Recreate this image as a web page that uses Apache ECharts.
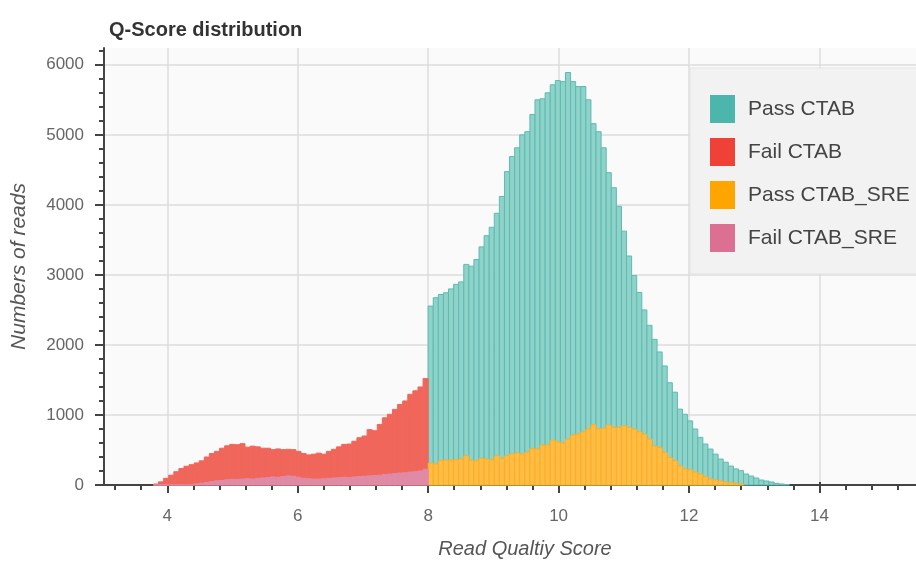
<!DOCTYPE html>
<html>
<head>
<meta charset="utf-8">
<script src="https://cdn.jsdelivr.net/npm/echarts@6/dist/echarts.min.js"></script>
<style>
  html, body { margin: 0; padding: 0; background: #ffffff; }
  #chart { width: 916px; height: 564px; }
</style>
</head>
<body>
<div id="chart"></div>
<script>
// Histogram bins (read quality score), all series share one bin width
const BIN_WIDTH = 0.078;
const passBinStart = 8.0;
const failBinStart = 3.788;

// Reads per bin, passing reads (q >= 8)
const passCTAB = [
  2555, 2675, 2720, 2745, 2800, 2865, 2900, 3150, 3125, 3220,
  3400, 3560, 3680, 3880, 4120, 4475, 4690, 4815, 5000, 5045,
  5290, 5500, 5515, 5600, 5715, 5775, 5760, 5890, 5760, 5690,
  5690, 5500, 5160, 5045, 4815, 4460, 4245, 3980, 3625, 3270,
  2990, 2750, 2500, 2280, 2080, 1900, 1700, 1460, 1325, 1083,
  1010, 915, 800, 680, 585, 513, 440, 370, 325, 270,
  230, 205, 157, 128, 100, 71, 57, 43, 24, 14,
  6
];
const passCTABSRE = [
  313, 300, 346, 356, 356, 360, 370, 418, 356, 346,
  380, 370, 360, 418, 380, 418, 442, 456, 442, 466,
  523, 513, 570, 570, 641, 617, 598, 655, 712, 727,
  760, 800, 860, 800, 810, 855, 822, 822, 845, 822,
  798, 760, 727, 655, 560, 537, 466, 394, 346, 275,
  228, 218, 185, 157, 120, 85, 71, 57, 43, 35,
  25, 15
];

// Reads per bin, failing reads (q < 8)
const failCTAB = [
  14, 45, 95, 140, 190, 235, 268, 290, 315, 345,
  400, 450, 480, 525, 560, 580, 575, 590, 540, 555,
  545, 525, 525, 505, 515, 505, 510, 505, 480, 450,
  430, 440, 455, 440, 480, 510, 545, 580, 585, 625,
  675, 700, 790, 775, 865, 960, 1010, 1080, 1150, 1200,
  1295, 1345, 1400, 1520
];
const failCTABSRE = [
  0, 0, 0, 0, 0, 0, 0, 0, 15, 25,
  35, 50, 60, 65, 75, 80, 80, 85, 90, 85,
  95, 100, 105, 115, 110, 120, 130, 125, 110, 95,
  90, 85, 85, 90, 95, 100, 105, 110, 105, 115,
  120, 125, 130, 135, 140, 150, 155, 165, 170, 175,
  185, 190, 200, 225
];

// Axis ticks and labels
const xMajorTicks = [4, 6, 8, 10, 12, 14];
const xMinorTicks = [3.2, 3.6, 4.4, 4.8, 5.2, 5.6, 6.4, 6.8, 7.2, 7.6, 8.4, 8.8, 9.2, 9.6,
                     10.4, 10.8, 11.2, 11.6, 12.4, 12.8, 13.2, 13.6, 14.4, 14.8, 15.2];
const yMajorTicks = [0, 1000, 2000, 3000, 4000, 5000, 6000];
const yMinorTicks = [200, 400, 600, 800, 1200, 1400, 1600, 1800, 2200, 2400, 2600, 2800,
                     3200, 3400, 3600, 3800, 4200, 4400, 4600, 4800, 5200, 5400, 5600, 5800, 6200];

const FONT = '"Liberation Sans", Arial, Helvetica, sans-serif';
const X_MIN = 3.03, X_MAX = 15.48, Y_MAX = 6240;
const AXIS_COLOR = '#444444';

function toBins(start, counts) {
  return counts.map((c, i) => [start + i * BIN_WIDTH, start + (i + 1) * BIN_WIDTH, c]);
}

function histSeries(name, start, counts, swatch, fill, stroke) {
  return {
    name: name,
    type: 'custom',
    xAxisIndex: 0,
    yAxisIndex: 0,
    data: toBins(start, counts),
    encode: { x: [0, 1], y: 2 },
    itemStyle: { color: swatch },
    renderItem: function (params, api) {
      const top = api.coord([api.value(0), api.value(2)]);
      const base = api.coord([api.value(1), 0]);
      return {
        type: 'rect',
        shape: { x: top[0], y: top[1], width: base[0] - top[0], height: base[1] - top[1] },
        style: { fill: fill, stroke: stroke, lineWidth: 1 }
      };
    }
  };
}

const plainNumber = (v) => String(v);

const chart = echarts.init(document.getElementById('chart'), null, { renderer: 'canvas' });

chart.setOption({
  animation: false,
  backgroundColor: '#ffffff',
  title: {
    text: 'Q-Score distribution',
    left: 104,
    top: 15,
    textStyle: { fontSize: 20, fontWeight: 'bold', color: '#333333', fontFamily: FONT }
  },
  grid: {
    left: 104, right: 0, top: 48, bottom: 78,
    show: true, backgroundColor: '#fafafa', borderWidth: 0
  },
  legend: {
    orient: 'vertical',
    left: 690,
    top: 68,
    padding: [27, 10, 22, 20],
    itemWidth: 25,
    itemHeight: 28,
    itemGap: 15,
    icon: 'rect',
    selectedMode: false,
    backgroundColor: '#f2f2f2',
    borderColor: '#e4e4e4',
    borderWidth: 1,
    textStyle: { fontSize: 21, color: '#444444', fontFamily: FONT, padding: [0, 0, 0, 8] },
    data: ['Pass CTAB', 'Fail CTAB', 'Pass CTAB_SRE', 'Fail CTAB_SRE']
  },
  xAxis: [
    {
      type: 'value', min: X_MIN, max: X_MAX, position: 'bottom',
      name: 'Read Qualtiy Score', nameLocation: 'middle', nameGap: 54,
      nameTextStyle: { fontSize: 20, fontStyle: 'italic', color: '#555555', fontFamily: FONT, padding: [0, 0, 0, 30] },
      axisLine: { show: true, onZero: false, lineStyle: { color: AXIS_COLOR, width: 2 } },
      axisTick: { show: true, customValues: xMajorTicks, length: 8, lineStyle: { color: AXIS_COLOR, width: 2 } },
      axisLabel: { customValues: xMajorTicks, formatter: plainNumber, margin: 23, fontSize: 17, color: '#666666', fontFamily: FONT },
      splitLine: { show: true, lineStyle: { color: '#dddddd', width: 1.5 } }
    },
    {
      type: 'value', min: X_MIN, max: X_MAX, position: 'bottom', offset: 0,
      axisLine: { show: false },
      axisTick: { show: true, customValues: xMinorTicks, length: 5, lineStyle: { color: AXIS_COLOR, width: 2 } },
      axisLabel: { show: false },
      splitLine: { show: false }
    },
    {
      type: 'value', min: X_MIN, max: X_MAX, position: 'bottom', offset: 0,
      axisLine: { show: false },
      axisTick: { show: true, inside: true, customValues: xMajorTicks, length: 3, lineStyle: { color: AXIS_COLOR, width: 2 } },
      axisLabel: { show: false },
      splitLine: { show: false }
    }
  ],
  yAxis: [
    {
      type: 'value', min: 0, max: Y_MAX, position: 'left',
      name: 'Numbers of reads', nameLocation: 'middle', nameGap: 74, nameRotate: 90,
      nameTextStyle: { fontSize: 21, fontStyle: 'italic', color: '#555555', fontFamily: FONT },
      axisLine: { show: true, onZero: false, lineStyle: { color: AXIS_COLOR, width: 2 } },
      axisTick: { show: true, customValues: yMajorTicks, length: 9, lineStyle: { color: AXIS_COLOR, width: 2 } },
      axisLabel: { customValues: yMajorTicks, formatter: plainNumber, margin: 20, fontSize: 17, color: '#666666', fontFamily: FONT },
      splitLine: { show: true, lineStyle: { color: '#dddddd', width: 1.5 } }
    },
    {
      type: 'value', min: 0, max: Y_MAX, position: 'left', offset: 0,
      axisLine: { show: false },
      axisTick: { show: true, customValues: yMinorTicks, length: 5, lineStyle: { color: AXIS_COLOR, width: 2 } },
      axisLabel: { show: false },
      splitLine: { show: false }
    }
  ],
  series: [
    histSeries('Pass CTAB', passBinStart, passCTAB, '#4db6ac', '#8ed2c9', '#5cbcb0'),
    histSeries('Fail CTAB', failBinStart, failCTAB, '#ef4136', '#f0665b', '#f0665b'),
    histSeries('Pass CTAB_SRE', passBinStart, passCTABSRE, '#ffa500', '#ffbd45', '#ffac22'),
    histSeries('Fail CTAB_SRE', failBinStart, failCTABSRE, '#db7093', '#e08aa6', '#e08aa6')
  ]
});
</script>
</body>
</html>
